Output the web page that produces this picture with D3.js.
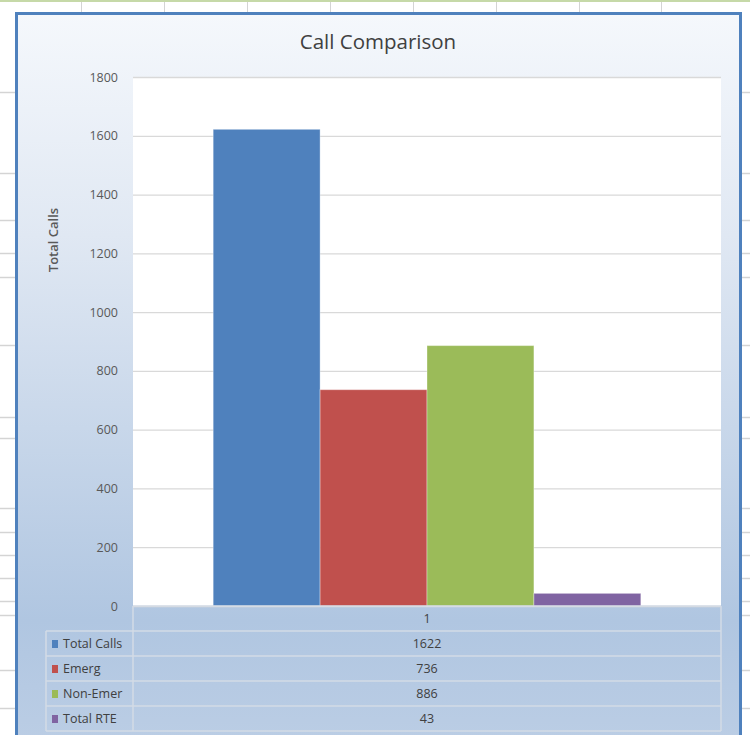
<!DOCTYPE html>
<html>
<head>
<meta charset="utf-8">
<script src="https://cdn.jsdelivr.net/npm/d3@7"></script>
<style>
  html, body { margin: 0; padding: 0; background: #ffffff; }
  svg { display: block; }
</style>
</head>
<body>
<svg id="chart" width="750" height="735"></svg>
<script>
// ---- data ----
const categories = ["1"];
const seriesNames = ["Total Calls", "Emerg", "Non-Emer", "Total RTE"];
const seriesValues = [1622, 736, 886, 43];
const seriesColors = ["#4f81bd", "#c0504d", "#9bbb59", "#8064a2"];
const yTicks = [0, 200, 400, 600, 800, 1000, 1200, 1400, 1600, 1800];
const sheetRowLines = [92, 173, 220, 253, 277, 345, 417, 438, 508, 532, 555, 578, 601, 615, 670, 708];
const sheetColLines = [81, 164, 247, 330, 413, 496, 579, 661];

(function () {
const svg = d3.select("#chart");
const W = 750, H = 735;

// ---- spreadsheet background ----
svg.append("rect").attr("width", W).attr("height", H).attr("fill", "#ffffff");
svg.append("rect").attr("x", 0).attr("y", 0).attr("width", W).attr("height", 2).attr("fill", "#c6d9a8");
svg.selectAll("line.scol").data(sheetColLines).enter().append("line")
  .attr("x1", d => d + 0.5).attr("x2", d => d + 0.5).attr("y1", 2).attr("y2", 14)
  .attr("stroke", "#d4d4d4").attr("stroke-width", 1);
svg.selectAll("line.srowL").data(sheetRowLines).enter().append("line")
  .attr("x1", 0).attr("x2", 15).attr("y1", d => d + 0.5).attr("y2", d => d + 0.5)
  .attr("stroke", "#d4d4d4").attr("stroke-width", 1.5);
svg.selectAll("line.srowR").data(sheetRowLines).enter().append("line")
  .attr("x1", 742).attr("x2", 750).attr("y1", d => d + 0.5).attr("y2", d => d + 0.5)
  .attr("stroke", "#d4d4d4").attr("stroke-width", 1.5);

// ---- chart frame ----
const defs = svg.append("defs");
const grad = defs.append("linearGradient").attr("id", "bg").attr("x1", 0).attr("y1", 0).attr("x2", 0).attr("y2", 1);
grad.append("stop").attr("offset", "0%").attr("stop-color", "#f5f8fc");
grad.append("stop").attr("offset", "30%").attr("stop-color", "#e0e8f3");
grad.append("stop").attr("offset", "82%").attr("stop-color", "#b0c6e1");
grad.append("stop").attr("offset", "100%").attr("stop-color", "#bccee5");

svg.append("rect").attr("x", 16.5).attr("y", 13.5).attr("width", 724).attr("height", 740)
  .attr("fill", "url(#bg)").attr("stroke", "#4f81bd").attr("stroke-width", 3);

// title
svg.append("text").attr("x", 378).attr("y", 49).attr("text-anchor", "middle")
  .attr("font-family", "Open Sans, sans-serif").attr("font-size", 20.5).attr("fill", "#404040")
  .text("Call Comparison");

// ---- plot area ----
const pLeft = 133, pRight = 721, pTop = 77, pBottom = 606;
const y = d3.scaleLinear().domain([0, 1800]).range([pBottom, pTop]);
const x0 = d3.scaleBand().domain(categories).range([pLeft, pRight]).paddingInner(0).paddingOuter(0.1875);
const x1 = d3.scaleBand().domain(seriesNames).range([0, x0.bandwidth()]).padding(0);

svg.append("rect").attr("x", pLeft).attr("y", pTop).attr("width", pRight - pLeft).attr("height", pBottom - pTop)
  .attr("fill", "#ffffff");

const yAxis = svg.append("g").attr("transform", `translate(${pLeft},0)`)
  .call(d3.axisLeft(y).tickValues(yTicks).tickSize(-(pRight - pLeft)).tickPadding(15).tickFormat(d3.format("d")));
yAxis.select(".domain").remove();
yAxis.selectAll(".tick line").attr("stroke", "#d9d9d9").attr("stroke-width", 1.3);
yAxis.selectAll(".tick text").attr("font-family", "Open Sans, sans-serif").attr("font-size", 12.5)
  .attr("fill", "#595959");

svg.append("text").attr("transform", "translate(58,240) rotate(-90)").attr("text-anchor", "middle")
  .attr("font-family", "Open Sans, sans-serif").attr("font-size", 13).attr("font-weight", 600)
  .attr("fill", "#595959").text("Total Calls");

// bars
const bars = seriesNames.map((n, i) => ({ name: n, value: seriesValues[i], color: seriesColors[i], cat: categories[0] }));
svg.selectAll("rect.bar").data(bars).enter().append("rect")
  .attr("x", d => x0(d.cat) + x1(d.name))
  .attr("y", d => y(d.value))
  .attr("width", x1.bandwidth())
  .attr("height", d => pBottom - y(d.value))
  .attr("fill", d => d.color)
  .attr("stroke", "rgba(255,255,255,0.35)").attr("stroke-width", 1);

// ---- data table ----
const tableLeft = 46, rowH = 25;
const rowY = d3.scaleBand().domain(["header"].concat(seriesNames)).range([pBottom, pBottom + rowH * 5]);
const gridColor = "#d3dbe6";
const tbl = svg.append("g");
tbl.append("line").attr("x1", pLeft).attr("x2", pRight).attr("y1", pBottom).attr("y2", pBottom)
  .attr("stroke", gridColor).attr("stroke-width", 1.5);
seriesNames.forEach(n => {
  tbl.append("line").attr("x1", tableLeft).attr("x2", pRight).attr("y1", rowY(n)).attr("y2", rowY(n))
    .attr("stroke", gridColor).attr("stroke-width", 1.5);
});
tbl.append("line").attr("x1", tableLeft).attr("x2", pRight).attr("y1", pBottom + rowH * 5).attr("y2", pBottom + rowH * 5)
  .attr("stroke", gridColor).attr("stroke-width", 1.5);
tbl.append("line").attr("x1", pLeft).attr("x2", pLeft).attr("y1", pBottom).attr("y2", pBottom + rowH * 5)
  .attr("stroke", gridColor).attr("stroke-width", 1.5);
tbl.append("line").attr("x1", pRight).attr("x2", pRight).attr("y1", pBottom).attr("y2", pBottom + rowH * 5)
  .attr("stroke", gridColor).attr("stroke-width", 1.5);
tbl.append("line").attr("x1", tableLeft).attr("x2", tableLeft).attr("y1", rowY(seriesNames[0])).attr("y2", pBottom + rowH * 5)
  .attr("stroke", gridColor).attr("stroke-width", 1.5);

tbl.append("text").attr("x", (pLeft + pRight) / 2)
  .attr("y", rowY("header") + rowH / 2 + 4).attr("text-anchor", "middle")
  .attr("font-family", "Open Sans, sans-serif").attr("font-size", 12.5).attr("fill", "#404040").text(categories[0]);

bars.forEach(d => {
  const ry = rowY(d.name);
  tbl.append("rect").attr("x", 52).attr("y", ry + 9).attr("width", 6).attr("height", 8).attr("fill", d.color);
  tbl.append("text").attr("x", 63).attr("y", ry + rowH / 2 + 4)
    .attr("font-family", "Open Sans, sans-serif").attr("font-size", 12.5).attr("fill", "#404040").text(d.name);
  tbl.append("text").attr("x", (pLeft + pRight) / 2).attr("y", ry + rowH / 2 + 4).attr("text-anchor", "middle")
    .attr("font-family", "Open Sans, sans-serif").attr("font-size", 12.5).attr("fill", "#404040").text(d.value);
});
})();
</script>
</body>
</html>
